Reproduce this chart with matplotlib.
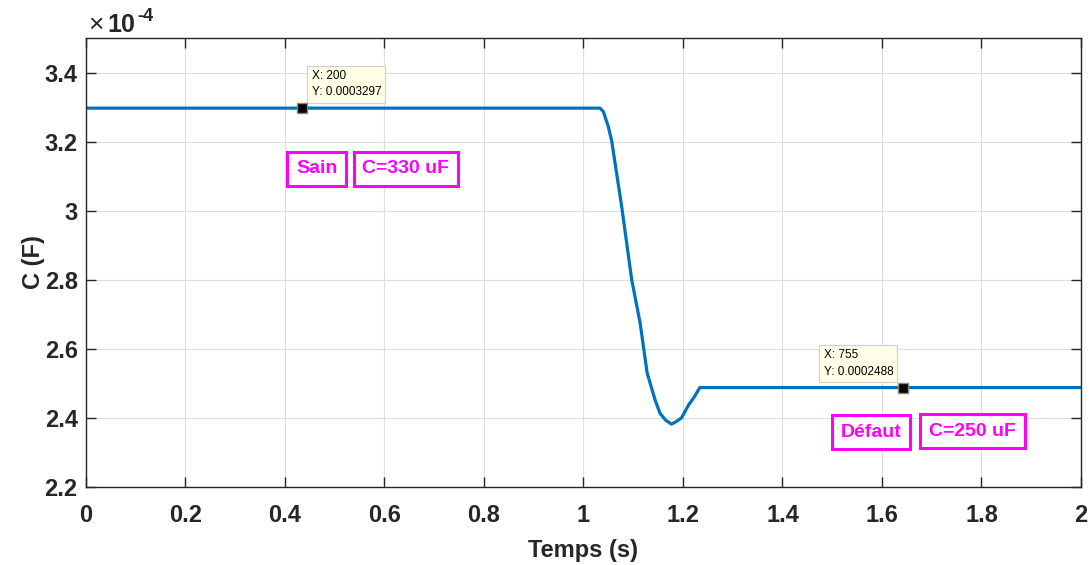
import numpy as np
import matplotlib
matplotlib.use('Agg')
import matplotlib.pyplot as plt
from matplotlib.ticker import FuncFormatter

plt.rcParams['font.family'] = ['Liberation Sans', 'DejaVu Sans']

# courbe
temps = [0.0, 1.033, 1.040, 1.050, 1.057, 1.077, 1.097, 1.114, 1.128, 1.144,
         1.154, 1.165, 1.177, 1.187, 1.197, 1.211, 1.221, 1.234, 2.0]
capa = [3.297, 3.297, 3.287, 3.243, 3.200, 3.010, 2.800, 2.674, 2.530, 2.452,
        2.413, 2.394, 2.382, 2.390, 2.400, 2.437, 2.457, 2.488, 2.488]
capa = [c * 1e-4 for c in capa]

# data tips
tip_t = [0.434, 1.642]
tip_c = [0.0003297, 0.0002488]
tip_txt = ['X: 200\nY: 0.0003297', 'X: 755\nY: 0.0002488']

etiquettes = ['Sain', 'C=330 uF', 'Défaut', 'C=250 uF']
etiq_t = [0.464, 0.643, 1.578, 1.782]
etiq_c = [3.127e-4, 3.127e-4, 2.365e-4, 2.368e-4]

fig = plt.figure(figsize=(10.91, 5.65), dpi=100)
ax = fig.add_axes([0.0788, 0.138, 0.912, 0.7947])

ax.plot(temps, capa, color='#0072BD', lw=2.3)

ax.set_xlim(0, 2)
ax.set_ylim(2.2e-4, 3.5e-4)
ax.set_xticks(np.arange(0, 2.01, 0.2))
ax.set_yticks(np.arange(2.2e-4, 3.41e-4, 0.2e-4))
ax.xaxis.set_major_formatter(FuncFormatter(lambda v, p: '%g' % round(v, 2)))
ax.yaxis.set_major_formatter(FuncFormatter(lambda v, p: '%g' % round(v / 1e-4, 2)))

ax.grid(True, color='#dedede', lw=0.8)
ax.set_axisbelow(True)
for s in ax.spines.values():
    s.set_color('#262626')
    s.set_linewidth(1.0)
ax.tick_params(direction='in', length=7, width=1.0, color='#262626',
               top=True, right=True, labelsize=17, labelcolor='#262626')
ax.tick_params(axis='x', pad=12)
ax.tick_params(axis='y', pad=6)
for lab in ax.get_xticklabels() + ax.get_yticklabels():
    lab.set_fontweight('bold')

ax.set_xlabel('Temps (s)', fontsize=17, fontweight='bold', color='#262626', labelpad=9)
ax.set_ylabel('C (F)', fontsize=17, fontweight='bold', color='#262626', labelpad=0)

# facteur d'echelle
fig.text(0.081, 0.943, '×', fontsize=19, color='#262626', ha='left', va='baseline')
fig.text(0.098, 0.943, '10', fontsize=18, fontweight='bold', color='#262626',
         ha='left', va='baseline')
fig.text(0.1255, 0.962, '-4', fontsize=13, fontweight='bold', color='#262626',
         ha='left', va='baseline')

# data tips
ax.plot(tip_t, tip_c, 's', ms=7, mfc='black', mec='#8a8a70', mew=1.0, zorder=5)
ax.annotate(tip_txt[0], (tip_t[0], tip_c[0]), xytext=(7, 7), textcoords='offset points',
            ha='left', va='bottom', fontsize=8.5, linespacing=1.5, multialignment='left',
            bbox=dict(boxstyle='square,pad=0.35', fc='#ffffe8', ec='#cfcfcf', lw=0.8))
ax.annotate(tip_txt[1], (tip_t[1], tip_c[1]), xytext=(-7, 7), textcoords='offset points',
            ha='right', va='bottom', fontsize=8.5, linespacing=1.5, multialignment='left',
            bbox=dict(boxstyle='square,pad=0.35', fc='#ffffe8', ec='#cfcfcf', lw=0.8))

for txt, t, c in zip(etiquettes, etiq_t, etiq_c):
    ax.text(t, c, txt, fontsize=14, fontweight='bold', color='#ff00ff',
            ha='center', va='center_baseline',
            bbox=dict(boxstyle='square,pad=0.45', fc='white', ec='#ff00ff', lw=2.2))

fig.savefig('out.png', dpi=100)
